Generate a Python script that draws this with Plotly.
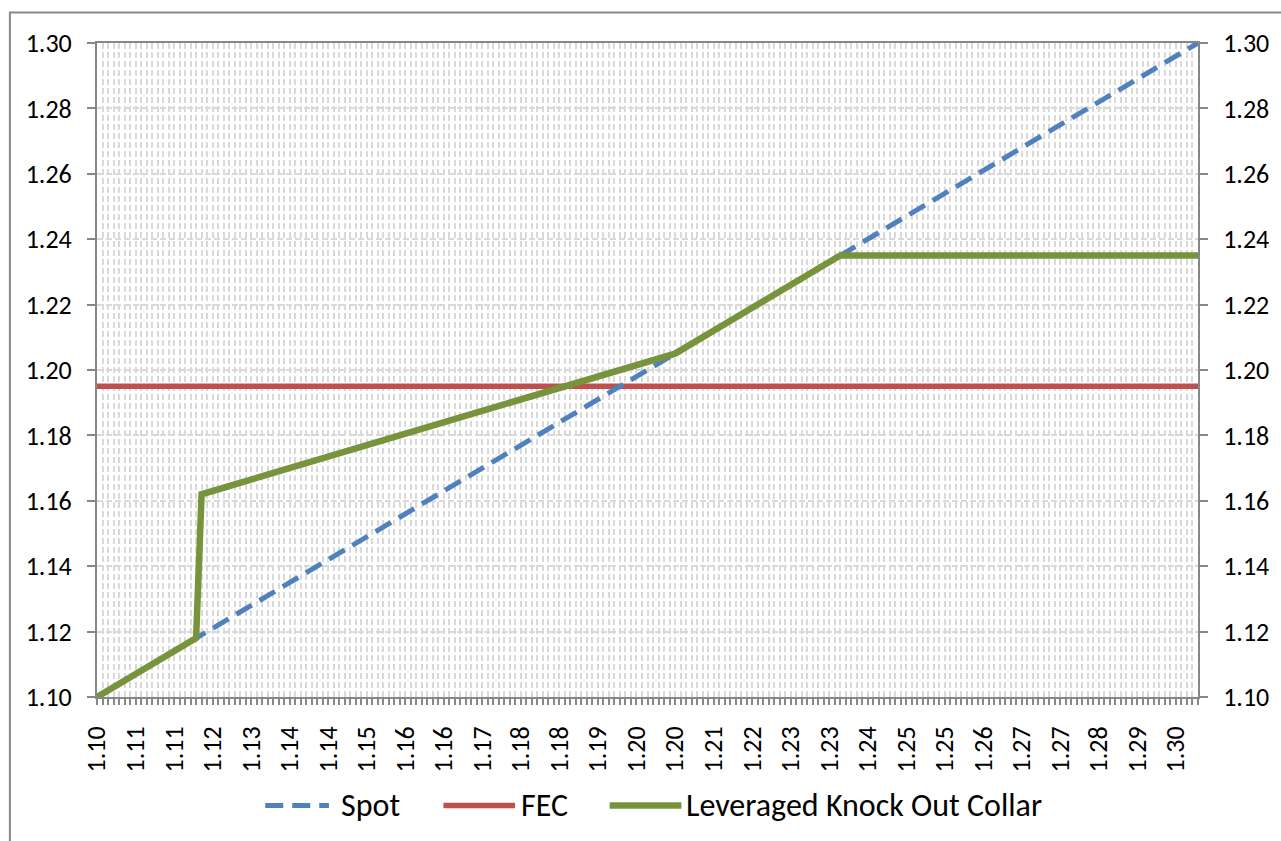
import plotly.graph_objects as go

# breakpoints (x = spot rate)
spot_x = [1.100, 1.300]
spot_y = [1.100, 1.300]

fec_x = [1.100, 1.300]
fec_y = [1.195, 1.195]

collar_x = [1.100, 1.118, 1.119, 1.205, 1.235, 1.300]
collar_y = [1.100, 1.118, 1.162, 1.205, 1.235, 1.235]

# category labels shown every 7th point on the original category axis
x_tickvals = [1.100, 1.107, 1.114, 1.121, 1.128, 1.135, 1.142, 1.149, 1.156, 1.163,
              1.170, 1.177, 1.184, 1.191, 1.198, 1.205, 1.212, 1.219, 1.226, 1.233,
              1.240, 1.247, 1.254, 1.261, 1.268, 1.275, 1.282, 1.289, 1.296]
x_ticktext = ["1.10", "1.11", "1.11", "1.12", "1.13", "1.14", "1.14", "1.15", "1.16", "1.16",
              "1.17", "1.18", "1.18", "1.19", "1.20", "1.20", "1.21", "1.22", "1.23", "1.23",
              "1.24", "1.25", "1.25", "1.26", "1.27", "1.27", "1.28", "1.29", "1.30"]

FONT = "Carlito, Calibri, Lato, sans-serif"
AXIS_GREY = "#878787"
GRID_GREY = "#D9D9D9"
BLUE, RED, GREEN = "#4F81BD", "#C0504D", "#77933C"
SPOT_DASH = "18px,9px"
TICK_SIZE = 26

W, H = 1281, 841
ML, MR, MT, MB = 97, 78, 43, 144
PW, PH = W - ML - MR, H - MT - MB


def px_x(px):
    return (px - ML) / PW


def px_y(py):
    return (H - MB - py) / PH


fig = go.Figure()

fig.add_trace(go.Scatter(
    x=fec_x, y=fec_y, mode="lines", name="FEC",
    line=dict(color=RED, width=5.5),
))
fig.add_trace(go.Scatter(
    x=spot_x, y=spot_y, mode="lines", name="Spot",
    line=dict(color=BLUE, width=5, dash=SPOT_DASH),
))
fig.add_trace(go.Scatter(
    x=collar_x, y=collar_y, mode="lines", name="Leveraged Knock Out Collar",
    line=dict(color=GREEN, width=6.5),
    yaxis="y2",
))

yaxis_common = dict(
    range=[1.10, 1.30],
    tick0=1.10,
    dtick=0.02,
    tickformat=".2f",
    ticks="outside",
    ticklen=8,
    tickcolor=AXIS_GREY,
    tickwidth=1.5,
    showline=True,
    linecolor=AXIS_GREY,
    linewidth=2,
    tickfont=dict(family=FONT, size=TICK_SIZE, color="black"),
    ticklabelstandoff=10,
    zeroline=False,
)

fig.update_layout(
    width=W,
    height=H,
    margin=dict(l=ML, r=MR, t=MT, b=MB),
    paper_bgcolor="white",
    plot_bgcolor="white",
    font=dict(family=FONT, size=TICK_SIZE, color="black"),
    showlegend=False,
    xaxis=dict(
        range=[1.10, 1.30],
        tickmode="array",
        tickvals=x_tickvals,
        ticktext=x_ticktext,
        tickangle=-90,
        ticks="outside",
        ticklen=6,
        tickcolor=AXIS_GREY,
        tickwidth=1.5,
        showgrid=False,
        showline=True,
        mirror=True,
        linecolor=AXIS_GREY,
        linewidth=2,
        zeroline=False,
        tickfont=dict(family=FONT, size=TICK_SIZE, color="black"),
        ticklabelstandoff=11,
        minor=dict(
            tickmode="linear",
            tick0=1.10,
            dtick=0.001,
            ticks="outside",
            ticklen=6,
            tickcolor=AXIS_GREY,
            tickwidth=1.5,
            showgrid=True,
            gridcolor=GRID_GREY,
            gridwidth=1.5,
            griddash="6px,3px",
        ),
    ),
    yaxis=dict(
        **yaxis_common,
        side="left",
        showgrid=True,
        gridcolor=GRID_GREY,
        gridwidth=1.5,
        griddash="6px,3px",
    ),
    yaxis2=dict(
        **yaxis_common,
        side="right",
        overlaying="y",
        showgrid=False,
    ),
)

# outer chart frame (only top and left edges fall inside the picture)
fig.add_shape(
    type="rect", xref="paper", yref="paper",
    x0=px_x(9.5), x1=px_x(W + 20), y0=px_y(H + 20), y1=px_y(12.5),
    line=dict(color="#888888", width=2),
    layer="below",
)

# legend drawn by hand so the sample lines are as long as in the original
legend_y = 805.5
legend_items = [
    ("Spot", BLUE, 5, SPOT_DASH, 266, 330, 340),
    ("FEC", RED, 5.5, "solid", 445, 517, 521),
    ("Leveraged Knock Out Collar", GREEN, 6.5, "solid", 612, 684, 687),
]
for label, color, width, dash, x0, x1, xt in legend_items:
    fig.add_shape(
        type="line", xref="paper", yref="paper",
        x0=px_x(x0), x1=px_x(x1), y0=px_y(legend_y), y1=px_y(legend_y),
        line=dict(color=color, width=width, dash=dash),
    )
    fig.add_annotation(
        x=px_x(xt), y=px_y(legend_y), xref="paper", yref="paper",
        text=label, showarrow=False, xanchor="left", yanchor="middle",
        font=dict(family=FONT, size=32, color="black"),
    )

fig.write_html(
    "out.html",
    config={"displayModeBar": False},
    post_script="document.body.style.margin='0';",
)
